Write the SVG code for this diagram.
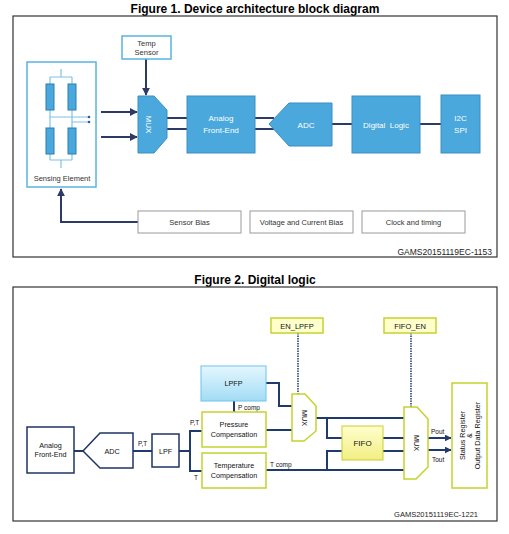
<svg xmlns="http://www.w3.org/2000/svg" width="509" height="534" viewBox="0 0 509 534">
<defs>
<style>
text{font-family:"Liberation Sans",Arial,sans-serif;}
.title{font-size:12px;font-weight:bold;fill:#000;text-anchor:middle;}
.frame{fill:#fff;stroke:#333;stroke-width:1.2;}
.blk{fill:#4aa8dc;stroke:#3a8fc2;stroke-width:1;}
.wt{fill:#fff;font-size:8px;text-anchor:middle;}
.gt{fill:#333;font-size:7.5px;text-anchor:middle;}
.dk{fill:#111;font-size:7.2px;text-anchor:middle;}
.lb{fill:#111;font-size:6.5px;}
.wire{fill:none;stroke:#2b3a66;stroke-width:2;}
.sw{fill:none;stroke:#7cc4e8;stroke-width:1.2;}
.res{fill:#4aa8dc;stroke:#2a7db0;stroke-width:1;}
.gbox{fill:#fff;stroke:#9a9a9a;stroke-width:1;}
.nv{fill:none;stroke:#1f3a6e;stroke-width:2;}
.navybox{fill:#fff;stroke:#1f3566;stroke-width:1.5;}
.yb{fill:#fff;stroke:#c5d22e;stroke-width:1.5;}
.dot{fill:none;stroke:#1f3a6e;stroke-width:1.5;stroke-dasharray:1.5 1;}
.code{font-size:7.5px;fill:#222;text-anchor:end;}
</style>
<marker id="ah" viewBox="0 0 10 10" refX="9" refY="5" markerWidth="4" markerHeight="4" orient="auto"><path d="M0,0L10,5L0,10z" fill="#2b3a66"/></marker>
<marker id="ah2" viewBox="0 0 10 10" refX="9" refY="5" markerWidth="3.500" markerHeight="3.500" orient="auto"><path d="M0,0L10,5L0,10z" fill="#1f3a6e"/></marker>
<linearGradient id="gLP" x1="0" y1="0" x2="0" y2="1"><stop offset="0" stop-color="#e4f7fe"/><stop offset="1" stop-color="#a2dcf5"/></linearGradient>
<linearGradient id="gFI" x1="0" y1="0" x2="0" y2="1"><stop offset="0" stop-color="#ffffcc"/><stop offset="1" stop-color="#f2ee84"/></linearGradient>
</defs>
<rect width="509" height="534" fill="#fff"/>

<!-- Figure 1 -->
<text class="title" x="255" y="12.500">Figure 1. Device architecture block diagram</text>
<rect class="frame" x="13" y="16" width="484" height="241"/>

<g id="connectors1">
<line class="wire" x1="146" y1="59" x2="146" y2="95" marker-end="url(#ah)"/>
<line class="wire" x1="101" y1="112" x2="137" y2="112" marker-end="url(#ah)"/>
<line class="wire" x1="101" y1="137" x2="137" y2="137" marker-end="url(#ah)"/>
<line class="wire" x1="167" y1="118" x2="187" y2="118"/>
<line class="wire" x1="167" y1="129" x2="187" y2="129"/>
<line class="wire" x1="255" y1="118" x2="274" y2="118"/>
<line class="wire" x1="255" y1="129" x2="274" y2="129"/>
<line class="wire" x1="332" y1="124" x2="352" y2="124"/>
<line class="wire" x1="420" y1="124" x2="441" y2="124"/>
<polyline class="wire" points="138,222 61,222 61,189" marker-end="url(#ah)"/>
</g>

<g id="sensing-element">
<rect x="27" y="62" width="69" height="125" fill="#fff" stroke="#5ab4e0" stroke-width="1.5"/>
<path class="sw" d="M61,69V77M50,77H72M50,77V84M72,77V84M50,110V128M72,110V128M50,117H89M72,122H89M50,154V160M72,154V160M50,160H72M61,160V168"/>
<circle cx="89" cy="117" r="1.3" fill="#2a5d9a"/>
<circle cx="89" cy="122" r="1.3" fill="#2a5d9a"/>
<rect class="res" x="46" y="84" width="8" height="26"/>
<rect class="res" x="68" y="84" width="8" height="26"/>
<rect class="res" x="46" y="128" width="8" height="26"/>
<rect class="res" x="68" y="128" width="8" height="26"/>
<text class="gt" x="62" y="181">Sensing Element</text>
</g>

<g id="temp-sensor">
<rect x="122" y="36" width="49" height="23" fill="#fff" stroke="#5ab4e0" stroke-width="1.5"/>
<text class="gt" x="146.500" y="46">Temp</text>
<text class="gt" x="146.500" y="55">Sensor</text>
</g>

<g id="mux1">
<polygon class="blk" points="138,96 154,96 167,110 167,138 154,153 138,153"/>
<text class="wt" transform="translate(149,124.500) rotate(90)" y="2.800">MUX</text>
</g>

<g id="afe1">
<rect class="blk" x="187" y="96" width="68" height="57"/>
<text class="wt" x="221" y="121">Analog</text>
<text class="wt" x="221" y="132.500">Front-End</text>
</g>

<g id="adc1">
<polygon class="blk" points="269,124 289,103 332,103 332,146 289,146"/>
<text class="wt" x="306" y="128">ADC</text>
</g>

<g id="digital-logic">
<rect class="blk" x="352" y="96" width="68" height="57"/>
<text class="wt" x="386" y="128" xml:space="preserve">Digital  Logic</text>
</g>

<g id="i2c-spi">
<rect class="blk" x="441" y="95" width="39" height="58"/>
<text class="wt" x="460.500" y="121">I2C</text>
<text class="wt" x="460.500" y="132.500">SPI</text>
</g>

<g id="sensor-bias">
<rect class="gbox" x="138" y="211" width="103" height="22"/>
<text class="gt" x="189.500" y="224.500">Sensor Bias</text>
</g>
<g id="voltage-bias">
<rect class="gbox" x="250" y="211" width="103" height="22"/>
<text class="gt" x="301.500" y="224.500">Voltage and Current Bias</text>
</g>
<g id="clock">
<rect class="gbox" x="362" y="211" width="103" height="22"/>
<text class="gt" x="413.500" y="224.500">Clock and timing</text>
</g>
<text class="code" x="492" y="254.500" style="font-size:8.5px">GAMS20151119EC-1153</text>

<!-- Figure 2 -->
<text class="title" x="255" y="284">Figure 2. Digital logic</text>
<rect class="frame" x="13" y="287" width="484" height="234"/>

<g id="connectors2">
<line class="nv" x1="74" y1="451" x2="83" y2="451"/>
<line class="nv" x1="133" y1="451" x2="152" y2="451"/>
<line class="nv" x1="179" y1="451" x2="190" y2="451"/>
<polyline class="nv" points="202,431 190,431 190,471 202,471"/>
<line class="nv" x1="234" y1="401" x2="234" y2="412"/>
<polyline class="nv" points="266,383 279,383 279,406 292,406"/>
<line class="nv" x1="266" y1="430" x2="292" y2="430"/>
<line class="nv" x1="316" y1="418" x2="404" y2="418"/>
<polyline class="nv" points="327,418 327,438 342,438"/>
<line class="nv" x1="383" y1="438" x2="404" y2="438"/>
<line class="nv" x1="383" y1="451" x2="404" y2="451"/>
<polyline class="nv" points="342,451 327,451 327,470"/>
<line class="nv" x1="266" y1="470" x2="404" y2="470"/>
<line class="dot" x1="298" y1="333" x2="298" y2="395"/>
<line class="dot" x1="411" y1="333" x2="411" y2="407"/>
<line class="nv" x1="428" y1="438" x2="451" y2="438" marker-end="url(#ah2)"/>
<line class="nv" x1="428" y1="450" x2="451" y2="450" marker-end="url(#ah2)"/>
<text class="lb" x="138" y="446">P,T</text>
<text class="lb" x="190" y="425">P,T</text>
<text class="lb" x="194" y="480">T</text>
<text class="lb" x="238" y="410">P comp</text>
<text class="lb" x="270" y="467">T comp</text>
<text class="lb" x="431" y="434">Pout</text>
<text class="lb" x="432" y="462">Tout</text>
</g>

<g id="afe2">
<rect class="navybox" x="27" y="427" width="47" height="46"/>
<text class="dk" x="50.500" y="448">Analog</text>
<text class="dk" x="50.500" y="457">Front-End</text>
</g>
<g id="adc2">
<polygon class="navybox" points="83,451 100,433 133,433 133,468 100,468"/>
<text class="dk" x="112" y="454">ADC</text>
</g>
<g id="lpf">
<rect class="navybox" x="152" y="434" width="27" height="33"/>
<text class="dk" x="165.500" y="454">LPF</text>
</g>
<g id="lpfp">
<rect x="201" y="366" width="65" height="35" fill="url(#gLP)" stroke="#6cc4ec" stroke-width="1"/>
<text class="dk" x="233.500" y="386">LPFP</text>
</g>
<g id="pressure-comp">
<rect class="yb" x="202" y="412" width="64" height="35"/>
<text class="dk" x="234" y="427">Pressure</text>
<text class="dk" x="234" y="437">Compensation</text>
</g>
<g id="temperature-comp">
<rect class="yb" x="202" y="453" width="64" height="35"/>
<text class="dk" x="234" y="468">Temperature</text>
<text class="dk" x="234" y="478">Compensation</text>
</g>
<g id="en-lpfp">
<rect x="271" y="318" width="52" height="15" fill="#ffffcc" stroke="#c5d22e" stroke-width="1.5"/>
<text class="dk" x="297" y="328.500" style="font-size:7.5px">EN_LPFP</text>
</g>
<g id="fifo-en">
<rect x="384" y="318" width="52" height="15" fill="#ffffcc" stroke="#c5d22e" stroke-width="1.5"/>
<text class="dk" x="410" y="328.500" style="font-size:7.5px">FIFO_EN</text>
</g>
<g id="mux2a">
<polygon class="yb" points="292,394 305,394 316,406 316,431 304,441 292,441"/>
<text class="dk" transform="translate(304,418) rotate(90)" y="2.500">MUX</text>
</g>
<g id="fifo">
<rect x="342" y="426" width="41" height="34" fill="url(#gFI)" stroke="#c5d22e" stroke-width="1"/>
<text class="dk" x="362.500" y="446" style="font-size:8px">FIFO</text>
</g>
<g id="mux2b">
<polygon class="yb" points="404,407 417,407 428,419 428,467 416,479 404,479"/>
<text class="dk" transform="translate(416,443) rotate(90)" y="2.500">MUX</text>
</g>
<g id="register">
<rect class="yb" x="452" y="383" width="35" height="105"/>
<text class="dk" transform="translate(462.500,435.500) rotate(-90)" y="2.500">Status Register</text>
<text class="dk" transform="translate(469.500,435.500) rotate(-90)" y="2.500">&amp;</text>
<text class="dk" transform="translate(477.500,435.500) rotate(-90)" y="2.500">Output Data Register</text>
</g>
<text class="code" x="478" y="517">GAMS20151119EC-1221</text>
</svg>
